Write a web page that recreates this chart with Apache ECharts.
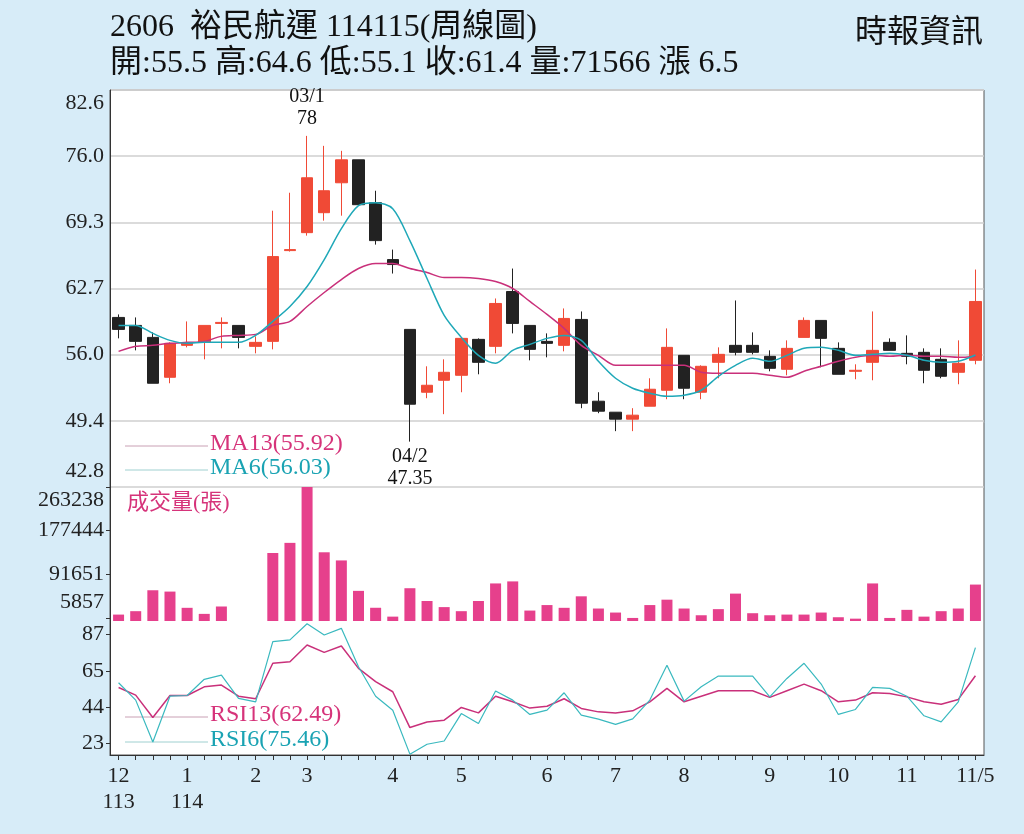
<!DOCTYPE html>
<html>
<head>
<meta charset="utf-8">
<script src="https://cdn.jsdelivr.net/npm/echarts@6/dist/echarts.min.js"></script>
<style>
html,body{margin:0;padding:0;background:#d7ecf8;}
#main{width:1024px;height:834px;}
</style>
</head>
<body>
<div id="main"></div>
<script>
// 週線資料 (開, 收, 低, 高)
var xLabels=['12\n113','','','','1\n114','','','','2','','','3','','','','','4','','','','5','','','','','6','','','','7','','','','8','','','','','9','','','','10','','','','11','','','','11/5'];
var openData =[59.8,59.0,57.8,53.8,57.0,57.3,59.2,59.0,56.9,57.4,66.5,68.3,70.3,73.3,75.6,71.3,65.6,58.6,52.3,53.5,54.0,57.6,56.9,62.4,59.0,57.4,57.0,59.6,51.4,50.3,49.6,50.9,52.5,56.0,52.3,55.3,57.0,57.0,55.9,54.6,57.8,59.5,56.7,54.4,55.3,57.3,56.2,56.3,55.6,54.3,55.5];
var closeData=[58.6,57.4,53.2,57.2,57.2,59.0,59.3,57.8,57.3,65.9,66.6,73.8,72.5,75.6,71.1,67.5,65.1,51.1,53.0,54.3,57.7,55.3,61.2,59.2,56.6,57.2,59.7,51.2,50.4,49.6,50.0,52.6,56.8,52.7,54.9,56.1,56.3,56.3,54.7,56.7,59.5,57.7,54.1,54.5,56.5,56.5,55.9,54.5,53.9,55.2,61.4];
var lowData  =[57.7,56.5,53.2,53.2,56.8,55.6,56.7,56.7,56.2,56.6,66.4,68.0,69.5,70.0,71.0,67.1,64.2,47.35,51.7,50.1,52.3,54.1,56.2,58.2,55.5,55.8,56.4,50.7,50.2,48.4,48.4,50.9,51.6,51.6,51.6,53.7,56.0,56.1,54.4,54.0,57.8,54.8,54.1,53.6,53.5,56.5,55.1,53.2,53.7,53.1,55.1];
var highData =[60.1,59.8,58.3,57.3,59.4,59.0,59.8,59.0,57.9,70.5,72.3,78.0,77.0,76.5,75.6,72.5,66.6,58.6,54.9,55.6,57.8,57.7,61.7,64.7,59.0,58.2,60.7,60.4,52.3,50.3,50.7,53.7,58.7,56.0,55.0,56.8,61.5,58.3,56.5,57.5,59.8,59.5,57.3,55.1,60.4,57.7,58.0,56.7,56.7,57.5,64.6];
var ma13=[56.4,56.9,57.0,57.2,57.3,57.4,57.9,58.0,58.1,59.0,59.4,60.9,62.3,63.6,64.7,65.2,65.2,64.7,64.3,63.8,63.8,63.7,63.4,62.7,61.4,60.1,58.7,57.0,56.0,55.0,55.0,55.0,55.0,55.0,54.3,54.2,54.2,54.2,54.0,53.8,54.4,54.9,55.4,55.8,56.0,55.9,56.0,55.9,55.9,55.8,55.92];
var ma6=[59.0,59.0,58.2,57.5,57.2,57.3,57.3,57.3,58.0,59.4,60.9,62.9,65.6,68.7,71.0,71.3,70.7,67.5,63.7,60.0,57.8,56.0,55.2,56.5,57.1,57.7,58.0,57.5,55.4,53.7,52.7,52.2,51.9,52.0,52.5,53.9,55.0,55.7,55.4,56.0,56.7,56.8,56.5,56.0,56.1,56.2,56.0,55.5,55.3,55.4,56.03];
var volData=[12600,19300,60400,57800,25900,14000,28500,0,0,133600,153500,263238,135000,119000,59200,26000,8600,64400,39300,27300,19300,39300,73800,77800,20500,31300,25900,48500,24500,16600,6000,31300,41900,24500,11300,23300,53800,15300,11300,12600,12600,16600,7400,4600,73800,6000,21900,8600,19300,24500,71566];
var rsi13=[55.6,51.1,38.0,50.9,50.9,56.0,57.0,50.5,49.0,69.8,70.7,80.5,76.2,79.9,66.8,59.0,53.1,32.1,35.4,36.4,43.9,40.7,50.5,47.2,43.5,44.6,49.0,43.3,41.3,40.7,41.9,47.2,55.1,47.2,50.5,53.7,53.7,53.7,49.8,53.7,57.6,53.7,47.2,48.2,52.5,52.1,50.1,47.2,45.8,48.6,62.49];
var rsi6=[58.4,48.2,23.6,50.5,50.9,60.4,62.9,49.2,47.2,82.5,83.5,93.0,86.4,90.3,67.8,50.5,42.3,16.5,22.3,24.2,40.3,34.5,53.5,48.2,39.8,42.3,52.5,39.4,37.0,34.0,37.2,48.2,68.7,47.6,56.0,62.3,62.3,62.3,50.1,60.9,69.8,57.6,39.8,42.7,55.7,55.1,50.5,39.0,35.4,47.2,79.0];
var priceTicks=['42.8','49.4','56.0','62.7','69.3','76.0','82.6'];
var volTicks=[5857,91651,177444,263238];
var rsiTicks=[23,44,65,87];

var FONT='"Liberation Serif","Noto Sans CJK TC",serif';
var kData=openData.map(function(o,i){return [o,closeData[i],lowData[i],highData[i]];});
var L=110, R=40;
var chart=echarts.init(document.getElementById('main'));
function xAxisCfg(idx,show){
    return {type:'category',gridIndex:idx,data:xLabels,boundaryGap:true,
        axisLine:{show:show,lineStyle:{color:'#333'}},
        axisTick:{show:show,alignWithLabel:true,length:5,interval:0,lineStyle:{color:'#333'}},
        axisLabel:{show:show,interval:0,color:'#222',fontFamily:FONT,fontSize:22,lineHeight:26,margin:8},
        splitLine:{show:false}};
}
var richLbl={lo:{padding:[0,0,32,0],fontSize:22,fontFamily:FONT,color:'#222'},
             hi:{padding:[26,0,0,0],fontSize:22,fontFamily:FONT,color:'#222'}};
option={
    backgroundColor:'#d7ecf8',
    animation:false,
    textStyle:{fontFamily:FONT},
    graphic:[
        {type:'rect',shape:{x:L,y:90,width:1024-L-R,height:665},style:{fill:'#fff',stroke:'#555',lineWidth:1},z:-10},
        {type:'text',left:110,top:12,style:{text:'2606  裕民航運 114115(周線圖)',font:'32px '+FONT,fill:'#111'}},
        {type:'text',left:110,top:48,style:{text:'開:55.5 高:64.6 低:55.1 收:61.4 量:71566 漲 6.5',font:'32px '+FONT,fill:'#111'}},
        {type:'text',left:855,top:18,style:{text:'時報資訊',font:'32px '+FONT,fill:'#111'}},
        {type:'line',shape:{x1:125,y1:446,x2:208,y2:446},style:{stroke:'#c9a0b4',lineWidth:1}},
        {type:'text',left:210,top:432,style:{text:'MA13(55.92)',font:'24px '+FONT,fill:'#d6337a'}},
        {type:'line',shape:{x1:125,y1:470,x2:208,y2:470},style:{stroke:'#9fd0d0',lineWidth:1}},
        {type:'text',left:210,top:456,style:{text:'MA6(56.03)',font:'24px '+FONT,fill:'#1aa3b3'}},
        {type:'text',left:127,top:492,style:{text:'成交量(張)',font:'22px '+FONT,fill:'#d6337a'}},
        {type:'line',shape:{x1:125,y1:717,x2:208,y2:717},style:{stroke:'#c9a0b4',lineWidth:1}},
        {type:'text',left:210,top:703,style:{text:'RSI13(62.49)',font:'24px '+FONT,fill:'#d6337a'}},
        {type:'line',shape:{x1:125,y1:742,x2:208,y2:742},style:{stroke:'#9fd0d0',lineWidth:1}},
        {type:'text',left:210,top:728,style:{text:'RSI6(75.46)',font:'24px '+FONT,fill:'#1aa3b3'}}
    ],
    grid:[
        {left:L,right:R,top:90,height:397},
        {left:L,right:R,top:487,height:134},
        {left:L,right:R,top:621,height:134}
    ],
    xAxis:[xAxisCfg(0,false),xAxisCfg(1,false),xAxisCfg(2,true)],
    yAxis:[
        {type:'value',gridIndex:0,min:42.8,max:82.6,interval:6.6333,
            axisLine:{show:true,lineStyle:{color:'#333'}},axisTick:{show:false},
            splitLine:{show:true,lineStyle:{color:'#cfcfcf',width:1.5}},
            axisLabel:{color:'#222',fontSize:22,fontFamily:FONT,margin:6,rich:richLbl,
                formatter:function(v,i){
                    var s=priceTicks[i];
                    if(i===0) return '{lo|'+s+'}';
                    if(i===priceTicks.length-1) return '{hi|'+s+'}';
                    return s;}}},
        {type:'value',gridIndex:1,min:0,max:263238,
            axisLine:{show:true,lineStyle:{color:'#333'}},splitLine:{show:false},
            axisTick:{show:true,length:4,customValues:volTicks},
            axisLabel:{customValues:volTicks,color:'#222',fontSize:22,fontFamily:FONT,margin:6,rich:richLbl,
                formatter:function(v){
                    if(v===263238) return '{hi|'+v+'}';
                    if(v===5857) return '{lo|'+v+'}';
                    return String(v);}}},
        {type:'value',gridIndex:2,min:16,max:94.6,
            axisLine:{show:true,lineStyle:{color:'#333'}},splitLine:{show:false},
            axisTick:{show:true,length:4,customValues:rsiTicks},
            axisLabel:{customValues:rsiTicks,color:'#222',fontSize:22,fontFamily:FONT,margin:6}}
    ],
    series:[
        {type:'candlestick',xAxisIndex:0,yAxisIndex:0,data:kData,barWidth:12,
            itemStyle:{color:'#f04a36',color0:'#222',borderColor:'#f04a36',borderColor0:'#222',borderWidth:1},
            markPoint:{symbol:'circle',symbolSize:0,
                label:{show:true,color:'#111',fontSize:20,fontFamily:FONT,lineHeight:22},
                data:[
                    {coord:[11,78],value:'03/1\n78',label:{formatter:'03/1\n78',position:'top',distance:6}},
                    {coord:[17,47.35],value:'04/2\n47.35',label:{formatter:'04/2\n47.35',position:'bottom',distance:4}}
                ]}},
        {type:'line',xAxisIndex:0,yAxisIndex:0,data:ma13,symbol:'none',smooth:0.3,lineStyle:{color:'#c9307a',width:1.5}},
        {type:'line',xAxisIndex:0,yAxisIndex:0,data:ma6,symbol:'none',smooth:0.3,lineStyle:{color:'#1fa8b8',width:1.5}},
        {type:'bar',xAxisIndex:1,yAxisIndex:1,data:volData,barWidth:11,itemStyle:{color:'#e6408c'}},
        {type:'line',xAxisIndex:2,yAxisIndex:2,data:rsi13,symbol:'none',lineStyle:{color:'#c9307a',width:1.5}},
        {type:'line',xAxisIndex:2,yAxisIndex:2,data:rsi6,symbol:'none',lineStyle:{color:'#3ab9bf',width:1.2}}
    ]
};
chart.setOption(option);
</script>
</body>
</html>
